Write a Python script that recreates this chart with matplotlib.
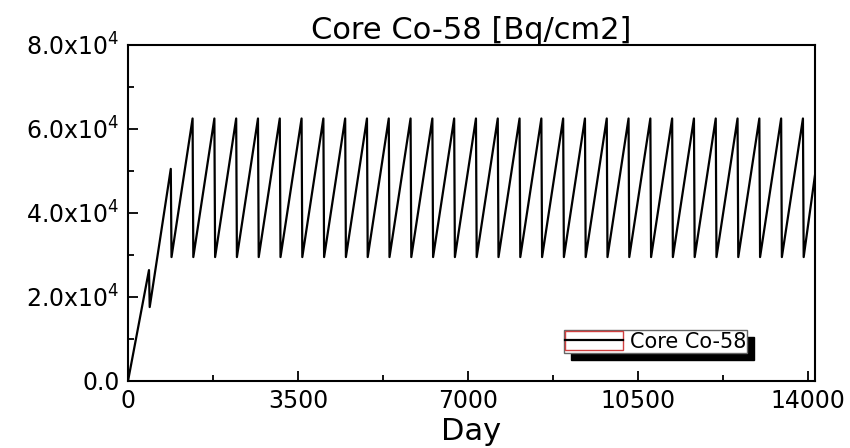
import matplotlib
matplotlib.use("Agg")
import matplotlib.pyplot as plt
from matplotlib.patches import Rectangle
from matplotlib.lines import Line2D
from matplotlib.legend_handler import HandlerTuple
from matplotlib.ticker import MultipleLocator, FuncFormatter

plt.rcParams['font.family'] = ['DejaVu Sans']
plt.rcParams['mathtext.fontset'] = 'dejavusans'

# sawtooth: (day, activity) corner points
start_day, start_val = 0, 0
peak_days = [432, 881, 1330, 1779, 2228, 2677, 3126, 3575, 4024, 4473, 4922,
             5371, 5820, 6269, 6718, 7167, 7616, 8065, 8514, 8963, 9412,
             9861, 10310, 10759, 11208, 11657, 12106, 12555, 13004, 13453, 13902]
peak_vals = [26400, 50500] + [62500] * 29
trough_days = [447, 896, 1345, 1794, 2243, 2692, 3141, 3590, 4039, 4488, 4937,
               5386, 5835, 6284, 6733, 7182, 7631, 8080, 8529, 8978, 9427,
               9876, 10325, 10774, 11223, 11672, 12121, 12570, 13019, 13468, 13917]
trough_vals = [17600] + [29500] * 30
end_day, end_val = 14150, 49000

days = [start_day]
vals = [start_val]
for pd_, pv, td, tv in zip(peak_days, peak_vals, trough_days, trough_vals):
    days += [pd_, td]
    vals += [pv, tv]
days.append(end_day)
vals.append(end_val)

fig = plt.figure(figsize=(8.5, 4.48), dpi=100)
ax = fig.add_axes([0.1506, 0.1496, 0.8082, 0.75])

ax.plot(days, vals, color='black', linewidth=1.6)

ax.set_xlim(0, 14150)
ax.set_ylim(0, 80000)
ax.set_xticks([0, 3500, 7000, 10500, 14000])
ax.xaxis.set_minor_locator(MultipleLocator(1750))
ax.yaxis.set_major_locator(MultipleLocator(20000))
ax.yaxis.set_minor_locator(MultipleLocator(10000))


def yfmt(v, pos):
    if v == 0:
        return '0.0'
    return r'$\mathregular{%.1fx10^{4}}$' % (v / 1e4)


ax.yaxis.set_major_formatter(FuncFormatter(yfmt))
ax.tick_params(which='both', direction='in', labelsize=17, top=False, right=False, width=1.3)
ax.tick_params(which='major', length=7, pad=6)
ax.tick_params(which='minor', length=4)
for s in ax.spines.values():
    s.set_linewidth(1.5)

ax.set_title('Core Co-58 [Bq/cm2]', fontsize=22, pad=3)
ax.set_xlabel('Day', fontsize=22, labelpad=3)

box = Rectangle((0, 0), 1, 1, facecolor='none', edgecolor='#d04040', linewidth=1)
h = Line2D([], [], color='black', linewidth=1.6)
leg = ax.legend([(box, h)], ['Core Co-58'],
                handler_map={tuple: HandlerTuple(ndivide=1, pad=0)},
                loc='lower left', bbox_to_anchor=(0.6346, 0.0833), borderaxespad=0,
                borderpad=0.05, handlelength=2.8, handleheight=1.0, handletextpad=0.3,
                fontsize=15, fancybox=False, framealpha=1, edgecolor='#666666',
                shadow={'color': 'black', 'alpha': 1, 'ox': 5, 'oy': -5})
leg.get_frame().set_linewidth(1)

fig.savefig('out.png', dpi=100)
